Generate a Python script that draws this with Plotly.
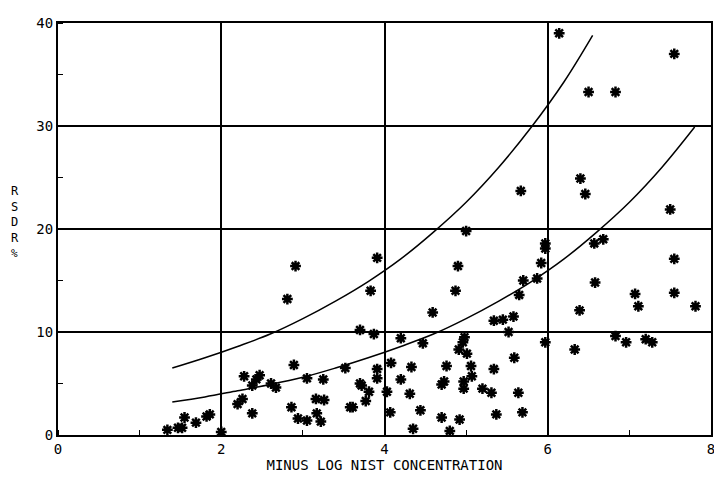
import plotly.graph_objects as go

# Measured points: x = minus log NIST concentration, y = RSDR %
pts_x = [1.34, 1.47, 1.52, 1.55, 1.69, 1.82, 1.86, 2.00, 2.20, 2.26, 2.28, 2.38, 2.38, 2.43, 2.47,
         2.61, 2.67, 2.81, 2.86, 2.89, 2.91, 2.94, 3.05, 3.05, 3.16, 3.17, 3.22, 3.25, 3.26, 3.52,
         3.58, 3.61, 3.70, 3.70, 3.72, 3.77, 3.81, 3.83, 3.87, 3.91, 3.91, 3.91, 4.03, 4.07, 4.08,
         4.20, 4.20, 4.31, 4.33, 4.35, 4.44, 4.47, 4.59, 4.70, 4.70, 4.73, 4.76, 4.80, 4.87, 4.90,
         4.91, 4.92, 4.96, 4.97, 4.97, 4.98, 5.00, 5.01, 5.06, 5.07, 5.20, 5.31, 5.34, 5.34, 5.37,
         5.45, 5.52, 5.58, 5.59, 5.64, 5.65, 5.67, 5.69, 5.70, 5.87, 5.92, 5.97, 5.97, 5.97, 6.14,
         6.33, 6.39, 6.40, 6.46, 6.50, 6.57, 6.58, 6.68, 6.83, 6.83, 6.96, 7.07, 7.11, 7.20, 7.28,
         7.50, 7.55, 7.55, 7.55, 7.81]
pts_y = [0.5, 0.7, 0.7, 1.7, 1.2, 1.8, 2.0, 0.3, 3.0, 3.5, 5.7, 2.1, 4.8, 5.4, 5.8,
         5.0, 4.6, 13.2, 2.7, 6.8, 16.4, 1.6, 1.4, 5.5, 3.5, 2.1, 1.3, 5.4, 3.4, 6.5,
         2.7, 2.7, 10.2, 5.0, 4.8, 3.3, 4.2, 14.0, 9.8, 6.4, 5.5, 17.2, 4.2, 2.2, 7.0,
         9.4, 5.4, 4.0, 6.6, 0.6, 2.4, 8.9, 11.9, 4.9, 1.7, 5.2, 6.7, 0.4, 14.0, 16.4,
         8.3, 1.5, 9.0, 5.2, 4.5, 9.5, 19.8, 7.9, 6.7, 5.7, 4.5, 4.1, 11.1, 6.4, 2.0,
         11.2, 10.0, 11.5, 7.5, 4.1, 13.6, 23.7, 2.2, 15.0, 15.2, 16.7, 18.6, 18.1, 9.0, 39.0,
         8.3, 12.1, 24.9, 23.4, 33.3, 18.6, 14.8, 19.0, 33.3, 9.6, 9.0, 13.7, 12.5, 9.3, 9.0,
         21.9, 13.8, 17.1, 37.0, 12.5]

# Curves
low_x = [1.4, 1.8, 2.2, 2.6, 3.0, 3.4, 3.8, 4.2, 4.6, 5.0, 5.4, 5.8, 6.2, 6.6, 7.0, 7.4, 7.8]
low_y = [3.2, 3.7, 4.3, 4.9, 5.6, 6.5, 7.5, 8.6, 9.8, 11.3, 13.0, 14.9, 17.1, 19.7, 22.6, 26.0, 29.9]
up_x = [1.4, 1.8, 2.2, 2.6, 3.0, 3.4, 3.8, 4.2, 4.6, 5.0, 5.4, 5.8, 6.2, 6.55]
up_y = [6.5, 7.5, 8.6, 9.8, 11.3, 13.0, 14.9, 17.1, 19.7, 22.6, 26.0, 29.9, 34.3, 38.8]

x_ticks = [0, 2, 4, 6, 8]
y_ticks = [0, 10, 20, 30, 40]

y_title = "RSDR"
y_unit = "%"

FONT = "DejaVu Sans Mono"

fig = go.Figure()
fig.add_trace(go.Scatter(x=low_x, y=low_y, mode="lines", line=dict(color="black", width=1.5, shape="spline"),
                         hoverinfo="skip"))
fig.add_trace(go.Scatter(x=up_x, y=up_y, mode="lines", line=dict(color="black", width=1.5, shape="spline"),
                         hoverinfo="skip"))
fig.add_trace(go.Scatter(x=pts_x, y=pts_y, mode="markers",
                         marker=dict(symbol="asterisk-open", size=9, color="black",
                                     line=dict(color="black", width=2.5))))

fig.update_layout(
    width=714, height=476,
    margin=dict(l=50, r=9, t=7, b=49),
    paper_bgcolor="white", plot_bgcolor="white",
    showlegend=False,
    font=dict(family=FONT, size=14, color="black"),
    xaxis=dict(range=[0, 8], tickvals=x_ticks, ticktext=[str(v) for v in x_ticks],
               showgrid=True, gridcolor="black", gridwidth=1.5, zeroline=False,
               showline=True, linecolor="black", linewidth=2, mirror=True,
               ticks="", minor=dict(dtick=1, tick0=0, ticks="inside", ticklen=5, tickcolor="black", showgrid=False),
               title=dict(text="MINUS LOG NIST CONCENTRATION", standoff=4, font=dict(size=14))),
    yaxis=dict(range=[0, 40], tickvals=y_ticks, ticktext=[str(v) for v in y_ticks],
               showgrid=True, gridcolor="black", gridwidth=1.5, zeroline=False,
               showline=True, linecolor="black", linewidth=2, mirror=True,
               ticks="", minor=dict(dtick=5, tick0=0, ticks="inside", ticklen=5, tickcolor="black", showgrid=False)),
)
fig.add_annotation(text="<br>".join(y_title), xref="paper", yref="paper", x=-0.066, y=0.536,
                   showarrow=False, font=dict(family=FONT, size=12, color="black"),
                   xanchor="center", yanchor="middle", align="center")
fig.add_annotation(text=y_unit, xref="paper", yref="paper", x=-0.066, y=0.44,
                   showarrow=False, font=dict(family=FONT, size=11, color="black"),
                   xanchor="center", yanchor="middle")

fig.write_html("out.html")
